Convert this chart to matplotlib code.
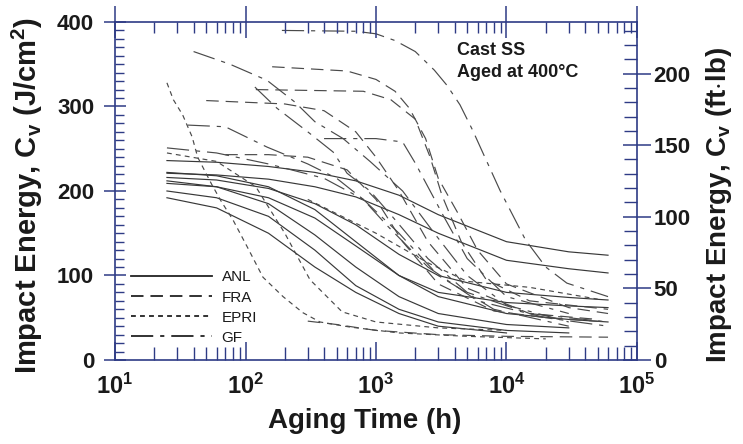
import numpy as np
import matplotlib
matplotlib.use("Agg")
import matplotlib.pyplot as plt
from matplotlib.lines import Line2D
from matplotlib.ticker import MultipleLocator, LogLocator, FuncFormatter, NullFormatter

plt.rcParams['font.family'] = ['Liberation Sans', 'DejaVu Sans']
plt.rcParams['mathtext.fontset'] = 'custom'
plt.rcParams['mathtext.rm'] = 'Liberation Sans:bold'
plt.rcParams['mathtext.bf'] = 'Liberation Sans:bold'
plt.rcParams['mathtext.it'] = 'Liberation Sans:bold'
plt.rcParams['lines.scale_dashes'] = False

# aging time (h) and impact energy (J/cm2), one list per curve
anl_hours = [25, 60, 150, 340, 700, 1500, 3000, 10000, 30000, 60000]
anl_cv = [
    [236, 234, 229, 222, 212, 195, 172, 140, 128, 124],
    [221, 219, 214, 205, 193, 172, 150, 118, 108, 103],
    [216, 213, 203, 185, 160, 125, 100, 80, 74, 71],
    [209, 205, 192, 168, 135, 100, 80, 68, 64, 62],
    [222, 218, 205, 178, 140, 100, 75, 55, 48, 45],
    [212, 205, 185, 148, 110, 75, 55, 42, 38],
    [200, 192, 170, 130, 88, 60, 45, 35, 32],
    [192, 180, 150, 110, 80, 55, 40, 32],
]

fra_hours = [
    [160, 600, 1000, 1400, 1800, 2400, 3000, 4200, 6000, 10000, 30000, 60000],
    [120, 800, 1300, 2000, 2600, 3200, 4500, 7000, 15000, 60000],
    [50, 200, 400, 700, 1000, 1500, 2500, 5000, 15000, 50000],
    [70, 150, 300, 600, 1000, 1600, 3000, 8000, 20000, 60000],
    [300, 500, 1000, 3000, 10000, 60000],
]
fra_cv = [
    [347, 342, 332, 318, 298, 262, 215, 175, 130, 90, 62, 55],
    [320, 318, 308, 285, 240, 195, 140, 95, 70, 60],
    [307, 303, 295, 270, 240, 200, 140, 85, 55, 48],
    [243, 243, 240, 225, 190, 140, 90, 58, 50, 45],
    [46, 42, 35, 30, 28, 27],
]

epri_hours = [
    [25, 28, 33, 39, 43, 55, 65, 80, 103, 136, 194, 275, 372, 630, 1500, 5000, 20000],
    [25, 60, 120, 200, 312, 550, 1000, 3000, 10000],
    [300, 1000, 2500, 5000, 15000, 50000],
]
epri_cv = [
    [328, 308, 290, 264, 240, 208, 188, 166, 134, 98, 75, 56, 45, 39, 32, 28, 25],
    [245, 235, 205, 150, 95, 57, 45, 38, 35],
    [190, 150, 115, 93, 86, 72],
]

gf_hours = [
    [40, 76, 146, 240, 340, 560, 900, 1600, 2800, 5000, 10000, 30000],
    [190, 700, 1000, 1400, 2000, 2800, 3500, 4400, 5500, 6600, 8900, 14000, 20000, 29000, 60000],
    [118, 174, 300, 470, 600, 900, 1400, 2500, 5000, 15000, 60000],
    [36, 70, 146, 300, 500, 800, 1200, 2500, 6000, 20000, 60000],
    [25, 60, 150, 400, 800, 1500, 3000, 8000, 30000],
    [400, 1000, 1600, 2000, 2600, 3300, 5000, 10000, 30000],
]
gf_cv = [
    [365, 350, 331, 305, 282, 262, 235, 200, 150, 100, 65, 45],
    [390, 389, 386, 378, 365, 343, 325, 302, 272, 245, 201, 142, 110, 91, 75],
    [323, 298, 270, 246, 221, 200, 166, 120, 80, 55, 45],
    [278, 276, 252, 232, 215, 190, 160, 110, 70, 50, 40],
    [251, 245, 232, 215, 190, 150, 100, 60, 40],
    [262, 262, 258, 233, 200, 170, 120, 75, 55],
]

labs = ["ANL", "FRA", "EPRI", "GF"]
J_TO_FTLB = 0.59  # J/cm2 -> ft.lb for 0.8 cm2 Charpy section

navy = "#2e3b85"
ink = "#1a1a1a"
curve_col = "#4a4a4a"
styles = {"ANL": "-", "FRA": (0, (9, 5)), "EPRI": (0, (3.5, 3)), "GF": (0, (16, 5, 3, 5))}

fig = plt.figure(figsize=(7.43, 4.44), dpi=100)
ax = fig.add_axes([0.1548, 0.1892, 0.7025, 0.7613])

for cv in anl_cv:
    ax.plot(anl_hours[:len(cv)], cv, color="#383838", lw=0.85, ls=styles["ANL"])
for h, cv in zip(fra_hours, fra_cv):
    ax.plot(h, cv, color=curve_col, lw=0.85, ls=styles["FRA"])
for h, cv in zip(epri_hours, epri_cv):
    ax.plot(h, cv, color=curve_col, lw=0.85, ls=styles["EPRI"])
for h, cv in zip(gf_hours, gf_cv):
    ax.plot(h, cv, color=curve_col, lw=0.85, ls=styles["GF"])

ax.set_xscale("log")
ax.set_xlim(10, 1e5)
ax.set_ylim(0, 400)

for s in ax.spines.values():
    s.set_color(navy)
    s.set_linewidth(1.2)

ax.tick_params(top=False, right=False)
ax.xaxis.set_major_locator(LogLocator(base=10, numticks=10))
ax.xaxis.set_minor_locator(LogLocator(base=10, subs=np.arange(2, 10), numticks=20))
ax.xaxis.set_minor_formatter(NullFormatter())
ax.xaxis.set_major_formatter(FuncFormatter(lambda v, p: r"$\mathbf{10^{%d}}$" % round(np.log10(v))))
ax.tick_params(axis="x", which="major", direction="in", length=13, width=1.1, color=navy,
               pad=10, labelsize=17, labelcolor=ink)
ax.tick_params(axis="x", which="minor", direction="in", length=9.5, width=1.0, color=navy)

ax.yaxis.set_major_locator(MultipleLocator(100))
ax.yaxis.set_minor_locator(MultipleLocator(10))
ax.tick_params(axis="y", which="major", direction="inout", length=16, width=1.1, color=navy,
               pad=7, labelsize=16, labelcolor=ink)
ax.tick_params(axis="y", which="minor", direction="in", length=6.5, width=1.0, color=navy)
for t in ax.get_yticklabels():
    t.set_fontweight("bold")

# top ticks
axt = ax.twiny()
axt.set_xscale("log")
axt.set_xlim(ax.get_xlim())
axt.xaxis.set_major_locator(LogLocator(base=10, numticks=10))
axt.xaxis.set_minor_locator(LogLocator(base=10, subs=np.arange(2, 10), numticks=20))
axt.tick_params(axis="x", which="major", direction="inout", length=23, width=1.1, color=navy,
                labeltop=False)
axt.tick_params(axis="x", which="minor", direction="in", length=8, width=1.0, color=navy)
axt.xaxis.set_minor_formatter(NullFormatter())
for s in axt.spines.values():
    s.set_visible(False)

# right axis in ft.lb
ax2 = ax.twinx()
ax2.set_ylim(0, 400 * J_TO_FTLB)
ax2.yaxis.set_major_locator(MultipleLocator(50))
ax2.yaxis.set_minor_locator(MultipleLocator(10))
ax2.tick_params(axis="y", which="major", direction="inout", length=20, width=1.1, color=navy,
                pad=2, labelsize=16, labelcolor=ink)
ax2.tick_params(axis="y", which="minor", direction="in", length=9.5, width=1.0, color=navy)
for t in ax2.get_yticklabels():
    t.set_fontweight("bold")
for s in ax2.spines.values():
    s.set_visible(False)

ax.set_xlabel("Aging Time (h)", fontsize=20, fontweight="bold", color=ink, va="top")
ax.xaxis.set_label_coords(0.479, -0.142)
ax.set_ylabel(r"Impact Energy, C$_\mathbf{v}$ (J/cm$^\mathbf{2}$)", fontsize=21,
              fontweight="bold", color=ink)
ax.yaxis.set_label_coords(-0.134, 0.488)
ax2.set_ylabel(r"Impact Energy, C$_\mathbf{v}$ (ft$\cdot$lb)", fontsize=20,
               fontweight="bold", color=ink, rotation=90, va="top")
ax2.yaxis.set_label_coords(1.128, 0.459)

ax.text(0.655, 0.94, "Cast SS\nAged at 400\u00b0C", transform=ax.transAxes, fontsize=13,
        fontweight="bold", color=ink, va="top", ha="left", linespacing=1.35)

handles = [Line2D([], [], color="#222222", lw=1.3, ls=styles[k]) for k in labs]
leg = ax.legend(handles, labs, loc="upper left", bbox_to_anchor=(0.03, 0.265), frameon=False,
                fontsize=11, handlelength=5.3, handletextpad=0.65, labelspacing=0.4,
                borderpad=0, borderaxespad=0)
for t in leg.get_texts():
    t.set_color(ink)

fig.savefig("out.png", dpi=100)
